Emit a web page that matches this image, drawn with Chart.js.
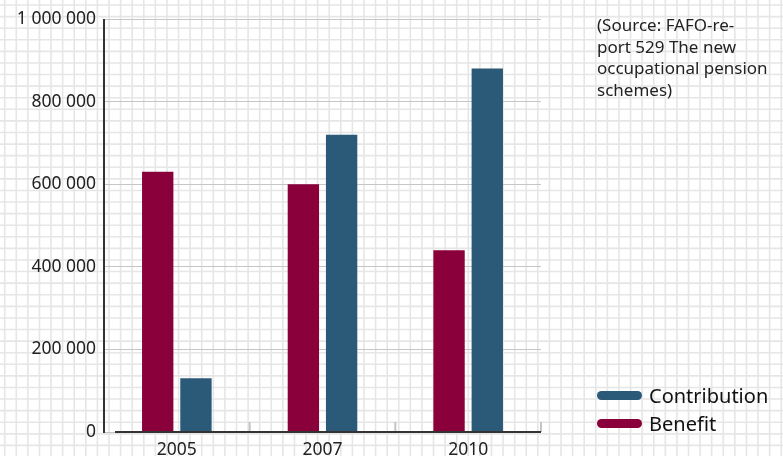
<!DOCTYPE html>
<html>
<head>
<meta charset="utf-8">
<script src="https://cdn.jsdelivr.net/npm/chart.js@4/dist/chart.umd.min.js"></script>
<style>
  html, body { margin: 0; padding: 0; background: #fff; }
  #wrap { position: relative; width: 783px; height: 456px; overflow: hidden; }
  #chart { position: absolute; left: 0; top: 0; }
  .note {
    position: absolute; left: 597px; top: 14px; width: 186px;
    font: 17px "Noto Sans", sans-serif; line-height: 21.7px; color: #222; white-space: nowrap;
  }
  .legend { position: absolute; left: 597px; top: 381px; font: 20px "Noto Sans", sans-serif; color: #111; }
  .legend div { height: 28px; display: flex; align-items: center; }
  .legend span.sw { display: inline-block; width: 45px; height: 9px; border-radius: 5px; margin-right: 7px; }
</style>
</head>
<body>
<div id="wrap">
  <canvas id="chart" width="783" height="456"></canvas>
  <div class="note">(Source: FAFO-re-<br>port 529 The new<br>occupational pension<br>schemes)</div>
  <div class="legend" id="legend"></div>
</div>
<script>
const years = ['2005', '2007', '2010'];
const benefit = [630000, 600000, 440000];
const contribution = [130000, 720000, 880000];
const yTicks = [0, 200000, 400000, 600000, 800000, 1000000];

const BENEFIT = '#8a003a';
const CONTRIB = '#2a5a77';

// graph-paper background behind everything
const paper = {
  id: 'paper',
  beforeDraw(chart) {
    const { ctx, width, height } = chart;
    const step = 11.59;
    ctx.save();
    ctx.strokeStyle = '#e6e6e6';
    ctx.lineWidth = 1.6;
    ctx.beginPath();
    for (let x = 4.7; x < width; x += step) { ctx.moveTo(x, 0); ctx.lineTo(x, height); }
    for (let y = 5; y < height; y += step) { ctx.moveTo(0, y); ctx.lineTo(width, y); }
    ctx.stroke();
    ctx.restore();
  }
};

// small upward marks between the year groups, plus the dark axes
const axisMarks = {
  id: 'axisMarks',
  afterDatasetsDraw(chart) {
    const { ctx, scales: { x, y } } = chart;
    const half = (x.getPixelForValue(1) - x.getPixelForValue(0)) / 2;
    const base = y.getPixelForValue(0);
    ctx.save();
    ctx.strokeStyle = '#c4c4c4';
    ctx.lineWidth = 2;
    ctx.beginPath();
    for (let i = 1; i <= years.length; i++) {
      const px = x.getPixelForValue(i - 1) + half;
      ctx.moveTo(px, base); ctx.lineTo(px, base - 10);
    }
    ctx.stroke();
    ctx.strokeStyle = '#333';
    ctx.lineWidth = 2;
    ctx.beginPath();
    ctx.moveTo(x.left + 11, base); ctx.lineTo(x.right, base);
    ctx.moveTo(x.left, y.getPixelForValue(yTicks[yTicks.length - 1])); ctx.lineTo(x.left, base + 1);
    ctx.stroke();
    ctx.restore();
  }
};

const fmt = v => String(v).replace(/\B(?=(\d{3})+(?!\d))/g, ' ');

new Chart(document.getElementById('chart'), {
  type: 'bar',
  data: {
    labels: years,
    datasets: [
      { label: 'Benefit', data: benefit, backgroundColor: BENEFIT },
      { label: 'Contribution', data: contribution, backgroundColor: CONTRIB }
    ]
  },
  options: {
    responsive: false,
    animation: false,
    layout: { padding: { top: 19, right: 242, left: 0, bottom: 0 } },
    datasets: { bar: { categoryPercentage: 0.525, barPercentage: 0.82 } },
    plugins: { legend: { display: false }, tooltip: { enabled: false } },
    scales: {
      x: {
        grid: { display: false },
        border: { display: false },
        ticks: { color: '#222', font: { family: 'Noto Sans', size: 17.5 }, padding: 0 },
        afterFit(s) { s.height = 24; }
      },
      y: {
        min: 0, max: 1000000,
        afterBuildTicks(s) { s.ticks = yTicks.map(v => ({ value: v })); },
        grid: { color: '#c6c6c6', lineWidth: 1, drawTicks: false },
        border: { display: false },
        ticks: {
          color: '#222', padding: 8,
          font: { family: 'Noto Sans', size: 17.5 },
          callback: v => fmt(v)
        },
        afterFit(s) { s.width = 104; }
      }
    }
  },
  plugins: [paper, axisMarks]
});

document.getElementById('legend').innerHTML = [['Contribution', CONTRIB], ['Benefit', BENEFIT]]
  .map(([name, c]) => `<div><span class="sw" style="background:${c}"></span>${name}</div>`).join('');
</script>
</body>
</html>
